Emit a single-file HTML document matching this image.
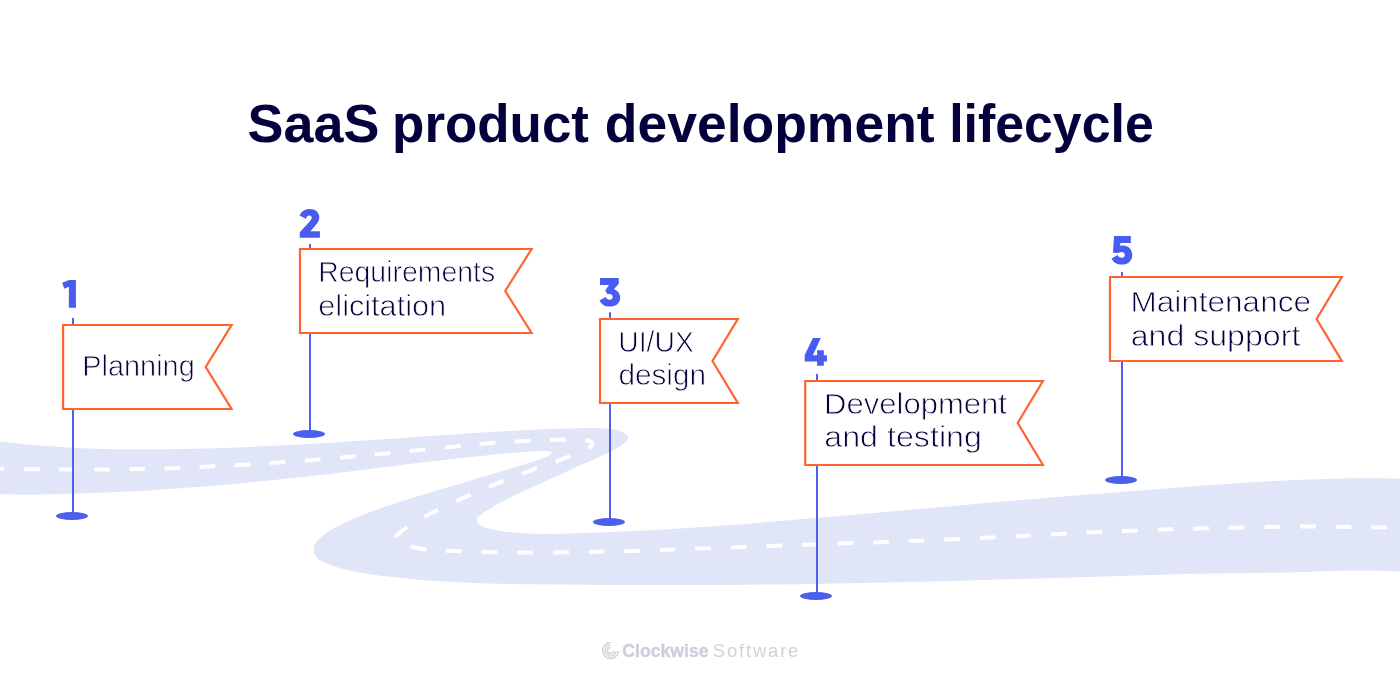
<!DOCTYPE html>
<html lang="en"><head><meta charset="utf-8"><title>SaaS product development lifecycle</title>
<style>html,body{margin:0;padding:0;background:#fff}body{width:1400px;height:698px;overflow:hidden}svg{display:block;will-change:transform}text{font-family:"Liberation Sans",sans-serif}</style></head><body>
<svg width="1400" height="698" viewBox="0 0 1400 698">
<rect width="1400" height="698" fill="#fff"/>
<g font-weight="700" font-size="54" fill="#03003c">
<text x="247.55" y="142.2" textLength="131.80" lengthAdjust="spacingAndGlyphs">SaaS</text>
<text x="392.10" y="142.2" textLength="196.85" lengthAdjust="spacingAndGlyphs">product</text>
<text x="604.85" y="142.2" textLength="329.75" lengthAdjust="spacingAndGlyphs">development</text>
<text x="949.15" y="142.2" textLength="204.60" lengthAdjust="spacingAndGlyphs">lifecycle</text>
</g>
<path d="M-8.0,440.4C7.9,442.6 23.8,444.3 39.7,445.6C55.7,446.9 71.7,447.8 87.6,448.5C103.6,449.1 119.6,449.4 135.6,449.5C151.6,449.6 167.6,449.5 183.6,449.1C199.7,448.8 215.7,448.3 231.6,447.7C247.6,447.1 263.6,446.4 279.6,445.6C295.6,444.7 311.6,443.8 327.5,442.9C343.5,441.9 359.5,440.9 375.4,439.8C391.4,438.8 407.4,437.7 423.3,436.6C439.3,435.5 455.3,434.4 471.2,433.3C487.2,432.3 503.2,431.3 519.2,430.5C535.1,429.6 551.1,429.0 567.1,428.6C581.1,428.3 595.2,427.3 609.1,428.7C611.3,428.9 613.4,429.3 615.5,429.8C617.2,430.1 618.8,430.6 620.4,431.2C621.7,431.7 623.0,432.3 624.3,433.0C624.9,433.3 625.5,433.6 626.0,434.0C626.4,434.3 626.8,434.6 627.1,434.9C627.3,435.1 627.5,435.4 627.6,435.6C627.8,435.8 627.9,436.0 628.0,436.3C628.1,436.4 628.1,436.5 628.1,436.6C628.1,436.8 628.2,436.9 628.2,437.0C628.2,437.1 628.2,437.3 628.2,437.4C628.1,437.7 628.1,437.9 628.0,438.2C627.9,438.5 627.8,438.7 627.6,439.0C627.4,439.4 627.2,439.9 626.9,440.3C626.5,440.8 626.0,441.4 625.5,441.9C624.7,442.7 623.9,443.4 623.1,444.0C622.1,444.9 620.9,445.7 619.8,446.4C606.1,454.7 590.9,460.2 576.5,467.0C562.2,473.8 547.6,480.5 532.8,487.0C519.6,492.9 506.7,498.8 495.2,505.6C490.5,508.5 484.7,511.6 479.6,515.7C479.0,516.1 478.5,516.6 478.1,517.1C477.8,517.3 477.6,517.6 477.5,517.8C477.3,518.1 477.1,518.3 477.0,518.6C476.9,518.8 476.8,519.1 476.8,519.3C476.7,519.6 476.7,519.9 476.7,520.1C476.7,520.4 476.8,520.6 476.8,520.9C476.9,521.2 477.0,521.4 477.1,521.7C477.2,521.9 477.3,522.2 477.5,522.4C477.7,522.8 478.0,523.2 478.3,523.5C478.6,523.9 478.9,524.2 479.3,524.5C479.8,524.9 480.3,525.3 480.8,525.6C481.5,526.0 482.2,526.4 482.9,526.7C484.0,527.2 485.1,527.6 486.2,527.9C491.0,529.3 495.9,530.2 500.8,531.0C510.0,532.5 519.1,533.3 528.3,533.6C544.3,534.2 560.2,533.7 576.2,533.3C592.1,532.8 608.1,532.2 624.1,531.5C640.0,530.8 656.0,529.9 672.0,529.0C687.9,528.0 703.9,527.0 719.9,525.8C735.8,524.6 751.8,523.4 767.8,522.1C783.7,520.8 799.7,519.5 815.7,518.1C831.6,516.7 847.6,515.3 863.5,513.9C879.5,512.5 895.4,511.1 911.4,509.6C927.3,508.2 943.3,506.8 959.2,505.4C975.1,504.1 991.1,502.7 1007.0,501.3C1022.9,500.0 1038.9,498.7 1054.8,497.3C1070.8,496.0 1086.7,494.7 1102.6,493.5C1118.6,492.2 1134.5,490.9 1150.5,489.7C1166.5,488.5 1182.4,487.3 1198.4,486.1C1214.4,485.0 1230.3,483.8 1246.3,482.8C1262.3,481.7 1278.3,480.8 1294.3,480.0C1310.3,479.3 1326.3,478.7 1342.2,478.4C1358.2,478.1 1374.2,478.0 1390.2,478.4C1395.4,478.5 1400.8,478.4 1405.8,479.1C1406.7,479.3 1407.7,479.5 1408.6,479.8C1409.4,480.0 1410.1,480.3 1410.8,480.6C1411.6,481.0 1412.3,481.4 1412.9,481.8C1413.8,482.3 1414.5,482.9 1415.3,483.6C1416.1,484.2 1416.8,484.9 1417.5,485.7C1418.3,486.6 1419.1,487.6 1419.8,488.6C1420.7,490.0 1421.6,491.4 1422.4,493.0C1423.4,494.9 1424.3,496.9 1425.1,499.1C1426.0,501.6 1426.8,504.3 1427.4,507.1C1428.2,510.6 1428.8,514.2 1429.1,517.9C1429.5,521.8 1429.6,525.8 1429.5,529.8C1429.4,533.5 1429.1,537.2 1428.5,540.7C1428.0,543.8 1427.4,546.8 1426.6,549.6C1425.9,551.9 1425.2,554.0 1424.3,555.9C1423.7,557.6 1422.9,559.1 1422.1,560.5C1421.3,561.8 1420.5,563.0 1419.7,564.0C1418.9,565.0 1418.1,565.8 1417.3,566.6C1416.6,567.3 1415.9,567.9 1415.1,568.5C1414.4,568.9 1413.8,569.3 1413.1,569.7C1412.4,570.1 1411.7,570.4 1411.0,570.6C1410.2,570.9 1409.5,571.1 1408.7,571.3C1407.9,571.4 1407.1,571.5 1406.3,571.6C1404.4,571.7 1402.3,571.6 1400.3,571.4C1383.9,570.5 1367.8,570.3 1351.9,570.6C1335.9,570.8 1320.1,571.4 1304.2,571.9C1288.3,572.3 1272.4,572.6 1256.3,572.9C1240.3,573.1 1224.3,573.3 1208.3,573.5C1192.2,573.8 1176.2,574.2 1160.2,574.7C1144.2,575.2 1128.2,575.7 1112.2,576.2C1096.2,576.8 1080.2,577.3 1064.3,577.7C1048.3,578.2 1032.3,578.7 1016.3,579.1C1000.3,579.5 984.3,580.0 968.3,580.4C952.3,580.8 936.3,581.3 920.3,581.7C904.3,582.1 888.2,582.4 872.2,582.8C856.2,583.1 840.2,583.5 824.2,583.7C808.2,584.0 792.2,584.2 776.2,584.4C760.2,584.6 744.2,584.8 728.2,584.9C712.2,585.0 696.3,585.0 680.3,585.0C664.3,585.1 648.3,585.0 632.3,585.0C616.3,584.9 600.3,584.9 584.3,584.7C568.3,584.6 552.3,584.5 536.2,584.3C520.2,584.1 504.2,583.9 488.1,583.4C472.1,582.9 456.1,582.3 440.1,581.3C424.2,580.2 408.3,578.9 392.4,577.0C376.6,575.1 360.8,573.2 345.2,569.4C339.9,568.1 334.6,566.5 329.4,564.5C326.7,563.5 323.9,562.4 321.4,561.0C320.7,560.6 319.9,560.2 319.3,559.7C318.7,559.3 318.2,558.9 317.7,558.4C317.4,558.1 317.0,557.7 316.7,557.3C316.4,557.0 316.1,556.5 315.8,556.1C315.5,555.5 315.2,554.9 314.9,554.3C314.6,553.7 314.4,553.0 314.3,552.4C314.1,551.7 314.0,551.0 313.9,550.4C313.9,549.9 313.8,549.4 313.9,549.0C313.9,548.5 313.9,548.0 314.0,547.6C314.1,547.0 314.2,546.4 314.4,545.8C314.6,545.2 314.9,544.6 315.1,544.1C315.5,543.4 315.9,542.7 316.3,542.1C316.9,541.3 317.5,540.5 318.2,539.8C319.2,538.7 320.3,537.7 321.6,536.7C324.4,534.4 327.4,532.3 330.5,530.3C335.3,527.3 340.1,524.7 345.1,522.4C359.5,515.6 374.4,510.4 389.5,505.3C404.6,500.2 419.8,495.5 435.2,491.0C450.6,486.4 466.1,481.9 481.5,477.2C496.9,472.6 511.9,468.2 526.7,463.8C532.2,462.2 537.9,460.3 544.5,457.5C546.5,456.6 548.6,455.6 550.1,454.7C550.5,454.4 550.8,454.2 551.1,453.9C551.3,453.8 551.5,453.6 551.6,453.5C551.8,453.3 551.9,453.2 551.9,453.0C552.0,452.9 552.0,452.9 552.0,452.8C552.0,452.7 552.0,452.7 552.0,452.6C552.0,452.5 552.0,452.5 552.0,452.4C552.0,452.3 551.9,452.3 551.9,452.2C551.8,452.2 551.8,452.1 551.7,452.0C551.6,452.0 551.6,451.9 551.5,451.9C551.3,451.8 551.1,451.7 550.9,451.6C550.6,451.5 550.4,451.4 550.1,451.4C549.5,451.2 548.8,451.1 548.1,451.1C545.7,450.8 543.0,450.9 540.7,450.9C523.7,451.4 509.1,453.3 493.1,454.8C477.2,456.3 461.3,458.0 445.4,459.8C429.5,461.7 413.6,463.6 397.7,465.6C381.9,467.5 366.0,469.5 350.1,471.4C334.2,473.3 318.3,475.2 302.4,476.9C286.5,478.7 270.6,480.3 254.6,481.9C238.7,483.4 222.8,484.9 206.8,486.2C190.9,487.5 174.9,488.7 158.9,489.7C143.0,490.7 127.0,491.6 111.0,492.3C95.0,493.0 79.0,493.6 63.0,493.9C47.0,494.3 31.0,494.4 15.0,494.4C7.3,494.4 -0.3,494.3 -8.0,494.2Z" fill="#e0e5f8"/>
<g fill="none" stroke="#fff" stroke-width="4.0"><path d="M-11.0,468.7C-9.2,468.7 -10.2,468.7 0.0,468.8C10.2,468.9 33.3,469.2 50.0,469.3C66.7,469.4 83.3,469.6 100.0,469.5C116.7,469.4 133.3,469.4 150.0,469.0C166.7,468.6 183.3,467.8 200.0,467.0C216.7,466.2 233.3,465.5 250.0,464.5C266.7,463.5 283.3,462.3 300.0,461.0C316.7,459.7 333.3,458.3 350.0,456.8C366.7,455.3 382.9,453.7 400.0,452.0C417.1,450.3 438.3,448.2 452.9,446.7C467.5,445.2 476.1,444.1 487.8,443.2C499.5,442.3 511.2,441.8 522.9,441.2C534.6,440.6 548.5,440.1 558.0,439.8C567.5,439.5 575.0,439.4 580.0,439.5C585.0,439.6 585.9,440.0 588.0,440.6C590.1,441.2 592.3,442.1 592.8,443.0C593.3,443.9 592.0,445.3 591.0,446.3C590.0,447.3 588.8,448.0 587.0,449.0C585.2,450.0 581.2,451.8 580.0,452.4" stroke-dasharray="15.7 19.45" stroke-dashoffset="0.3"/><path d="M570.0,456.0C568.7,456.5 569.0,456.7 562.1,459.2C555.2,461.7 539.7,467.0 528.6,471.2C517.5,475.4 506.4,479.6 495.4,484.1C484.4,488.6 473.5,493.3 462.7,498.2C451.9,503.1 439.9,508.7 430.5,513.6C421.1,518.5 412.0,524.2 406.6,527.6C401.2,531.0 399.9,532.3 398.0,534.2C396.1,536.1 395.4,537.5 395.3,538.8C395.2,540.1 396.0,541.2 397.3,542.2C398.6,543.2 400.7,543.8 403.0,544.5C405.3,545.2 407.0,545.7 410.9,546.5C414.8,547.3 419.2,548.6 426.4,549.4C433.6,550.2 443.5,550.6 454.1,551.1C464.7,551.6 474.0,552.0 490.0,552.2C506.0,552.4 531.7,552.6 550.0,552.5C568.3,552.4 585.0,552.1 600.0,551.8C615.0,551.5 628.7,551.1 640.0,550.8C651.3,550.4 641.3,550.7 668.0,549.7C694.7,548.7 761.3,546.3 800.0,544.9C838.7,543.5 866.7,542.7 900.0,541.4C933.3,540.1 966.7,538.7 1000.0,537.1C1033.3,535.5 1066.7,533.4 1100.0,532.0C1133.3,530.6 1166.7,529.5 1200.0,528.6C1233.3,527.7 1270.0,526.8 1300.0,526.6C1330.0,526.4 1361.7,527.2 1380.0,527.4C1398.3,527.6 1405.0,527.9 1410.0,528.0" stroke-dasharray="15.7 19.90" stroke-dashoffset="0.2"/></g>
<rect x="72.05" y="318.0" width="1.9" height="198.0" fill="#4859ee"/>
<ellipse cx="72.0" cy="516.0" rx="16" ry="4.05" fill="#4b5eee"/>
<path d="M63.1,325.0H231.6L205.7,367.0L231.6,409.0H63.1Z" fill="#fff" stroke="#ff6430" stroke-width="2.2" stroke-linejoin="miter" stroke-miterlimit="10"/>
<path d="M69,280.1H75.9V307.8H68.85V286.7L64.3,288.8L62.2,282.8Z" fill="#4a5bf0"/>
<text x="82.25" y="375.9" font-size="29.9" fill="#03003c" stroke="#fff" stroke-width="0.8" textLength="112.45" lengthAdjust="spacingAndGlyphs">Planning</text>
<rect x="309.05" y="244.0" width="1.9" height="190.0" fill="#4859ee"/>
<ellipse cx="309.0" cy="434.0" rx="16" ry="4.05" fill="#4b5eee"/>
<path d="M300.0,249.0H531.6L505.2,291.0L531.6,333.0H300.0Z" fill="#fff" stroke="#ff6430" stroke-width="2.2" stroke-linejoin="miter" stroke-miterlimit="10"/>
<path d="M299.6,215.4C301.4,211.4 305,209 309.6,209C315.4,209 319.3,212.5 319.3,217.3C319.3,220.8 317.5,223.3 314.6,226.4L310.4,231.2H319.9V237.8H299.8V232.3L309.2,221.9C310.7,220.3 311.7,219.1 311.7,217.7C311.7,216.3 310.8,215.4 309.4,215.4C307.8,215.4 306.6,216.6 305.8,218.7Z" fill="#4a5bf0"/>
<text x="318.25" y="281.7" font-size="29.9" fill="#03003c" stroke="#fff" stroke-width="0.8" textLength="176.85" lengthAdjust="spacingAndGlyphs">Requirements</text>
<text x="318.25" y="315.5" font-size="29.9" fill="#03003c" stroke="#fff" stroke-width="0.8" textLength="127.90" lengthAdjust="spacingAndGlyphs">elicitation</text>
<rect x="609.05" y="312.3" width="1.9" height="209.7" fill="#4859ee"/>
<ellipse cx="609.0" cy="522.0" rx="16" ry="4.05" fill="#4b5eee"/>
<path d="M600.0,319.0H737.8L712.5,361.0L737.8,403.0H600.0Z" fill="#fff" stroke="#ff6430" stroke-width="2.2" stroke-linejoin="miter" stroke-miterlimit="10"/>
<path d="M600,278.1H618.8V283.7L613.9,289.2C617.8,290.6 620.2,293.8 620.2,297.7C620.2,302.9 615.8,306.6 609.6,306.6C604.8,306.6 601.2,304.3 599.5,300.5L605.7,297.1C606.4,298.8 607.7,299.8 609.6,299.8C611.5,299.8 612.7,298.6 612.7,297C612.7,295.2 611.4,294.1 609.4,294.1H607.3L605.2,290.4L609,285.1H600Z" fill="#4a5bf0"/>
<text x="618.30" y="351.6" font-size="29.9" fill="#03003c" stroke="#fff" stroke-width="0.8" textLength="75.45" lengthAdjust="spacingAndGlyphs">UI/UX</text>
<text x="618.45" y="385.4" font-size="29.9" fill="#03003c" stroke="#fff" stroke-width="0.8" textLength="87.55" lengthAdjust="spacingAndGlyphs">design</text>
<rect x="816.05" y="374.0" width="1.9" height="222.0" fill="#4859ee"/>
<ellipse cx="816.0" cy="596.0" rx="16" ry="4.05" fill="#4b5eee"/>
<path d="M805.2,381.0H1042.9L1017.7,423.0L1042.9,465.0H805.2Z" fill="#fff" stroke="#ff6430" stroke-width="2.2" stroke-linejoin="miter" stroke-miterlimit="10"/>
<path d="M812.9,338.1H820.8L812.9,355.2H817.1V350.3H823.8V355.2H826.9V361.5H823.8V365.8H817.1V361.5H804.7V355.1Z" fill="#4a5bf0"/>
<text x="824.00" y="413.7" font-size="29.9" fill="#03003c" stroke="#fff" stroke-width="0.8" textLength="183.00" lengthAdjust="spacingAndGlyphs">Development</text>
<text x="824.25" y="447.4" font-size="29.9" fill="#03003c" stroke="#fff" stroke-width="0.8" textLength="157.70" lengthAdjust="spacingAndGlyphs">and testing</text>
<rect x="1121.05" y="272.0" width="1.9" height="208.0" fill="#4859ee"/>
<ellipse cx="1121.0" cy="480.0" rx="16" ry="4.05" fill="#4b5eee"/>
<path d="M1110.0,277.0H1341.8L1316.6,319.0L1341.8,361.0H1110.0Z" fill="#fff" stroke="#ff6430" stroke-width="2.2" stroke-linejoin="miter" stroke-miterlimit="10"/>
<path d="M1114.1,236.1H1130.8V242.9H1120.4L1120.1,245.8C1121,245.5 1121.9,245.4 1122.9,245.4C1128.3,245.4 1132.3,249.4 1132.3,254.9C1132.3,260.6 1127.9,264.6 1121.8,264.6C1116.9,264.6 1113.2,262.2 1111.5,258.4L1117.7,255.1C1118.4,256.8 1119.8,257.8 1121.7,257.8C1123.6,257.8 1124.8,256.6 1124.8,254.9C1124.8,253.2 1123.5,252 1121.5,252C1120.3,252 1119.3,252.3 1118.5,252.9L1112.9,252.7Z" fill="#4a5bf0"/>
<text x="1130.45" y="311.8" font-size="29.9" fill="#03003c" stroke="#fff" stroke-width="0.8" textLength="180.55" lengthAdjust="spacingAndGlyphs">Maintenance</text>
<text x="1130.70" y="345.6" font-size="29.9" fill="#03003c" stroke="#fff" stroke-width="0.8" textLength="169.65" lengthAdjust="spacingAndGlyphs">and support</text>
<g fill="none" stroke="#cecedb" stroke-width="1.35"><path d="M610.5,642.7A7.9,7.9 0 1 0 618.4,651.0"/><path d="M610.5,645.1A5.5,5.5 0 1 0 616.0,651.0"/><path d="M610.5,647.5A3.1,3.1 0 1 0 613.6,651.0"/></g>
<text x="622.3" y="657.2" font-size="17.5" font-weight="700" fill="#cecedb" stroke="#cecedb" stroke-width="0.35" textLength="86.2" lengthAdjust="spacingAndGlyphs">Clockwise</text>
<text x="712.8" y="657.4" font-size="18.5" fill="#d2d2de" textLength="85.6" lengthAdjust="spacing">Software</text>
</svg></body></html>
